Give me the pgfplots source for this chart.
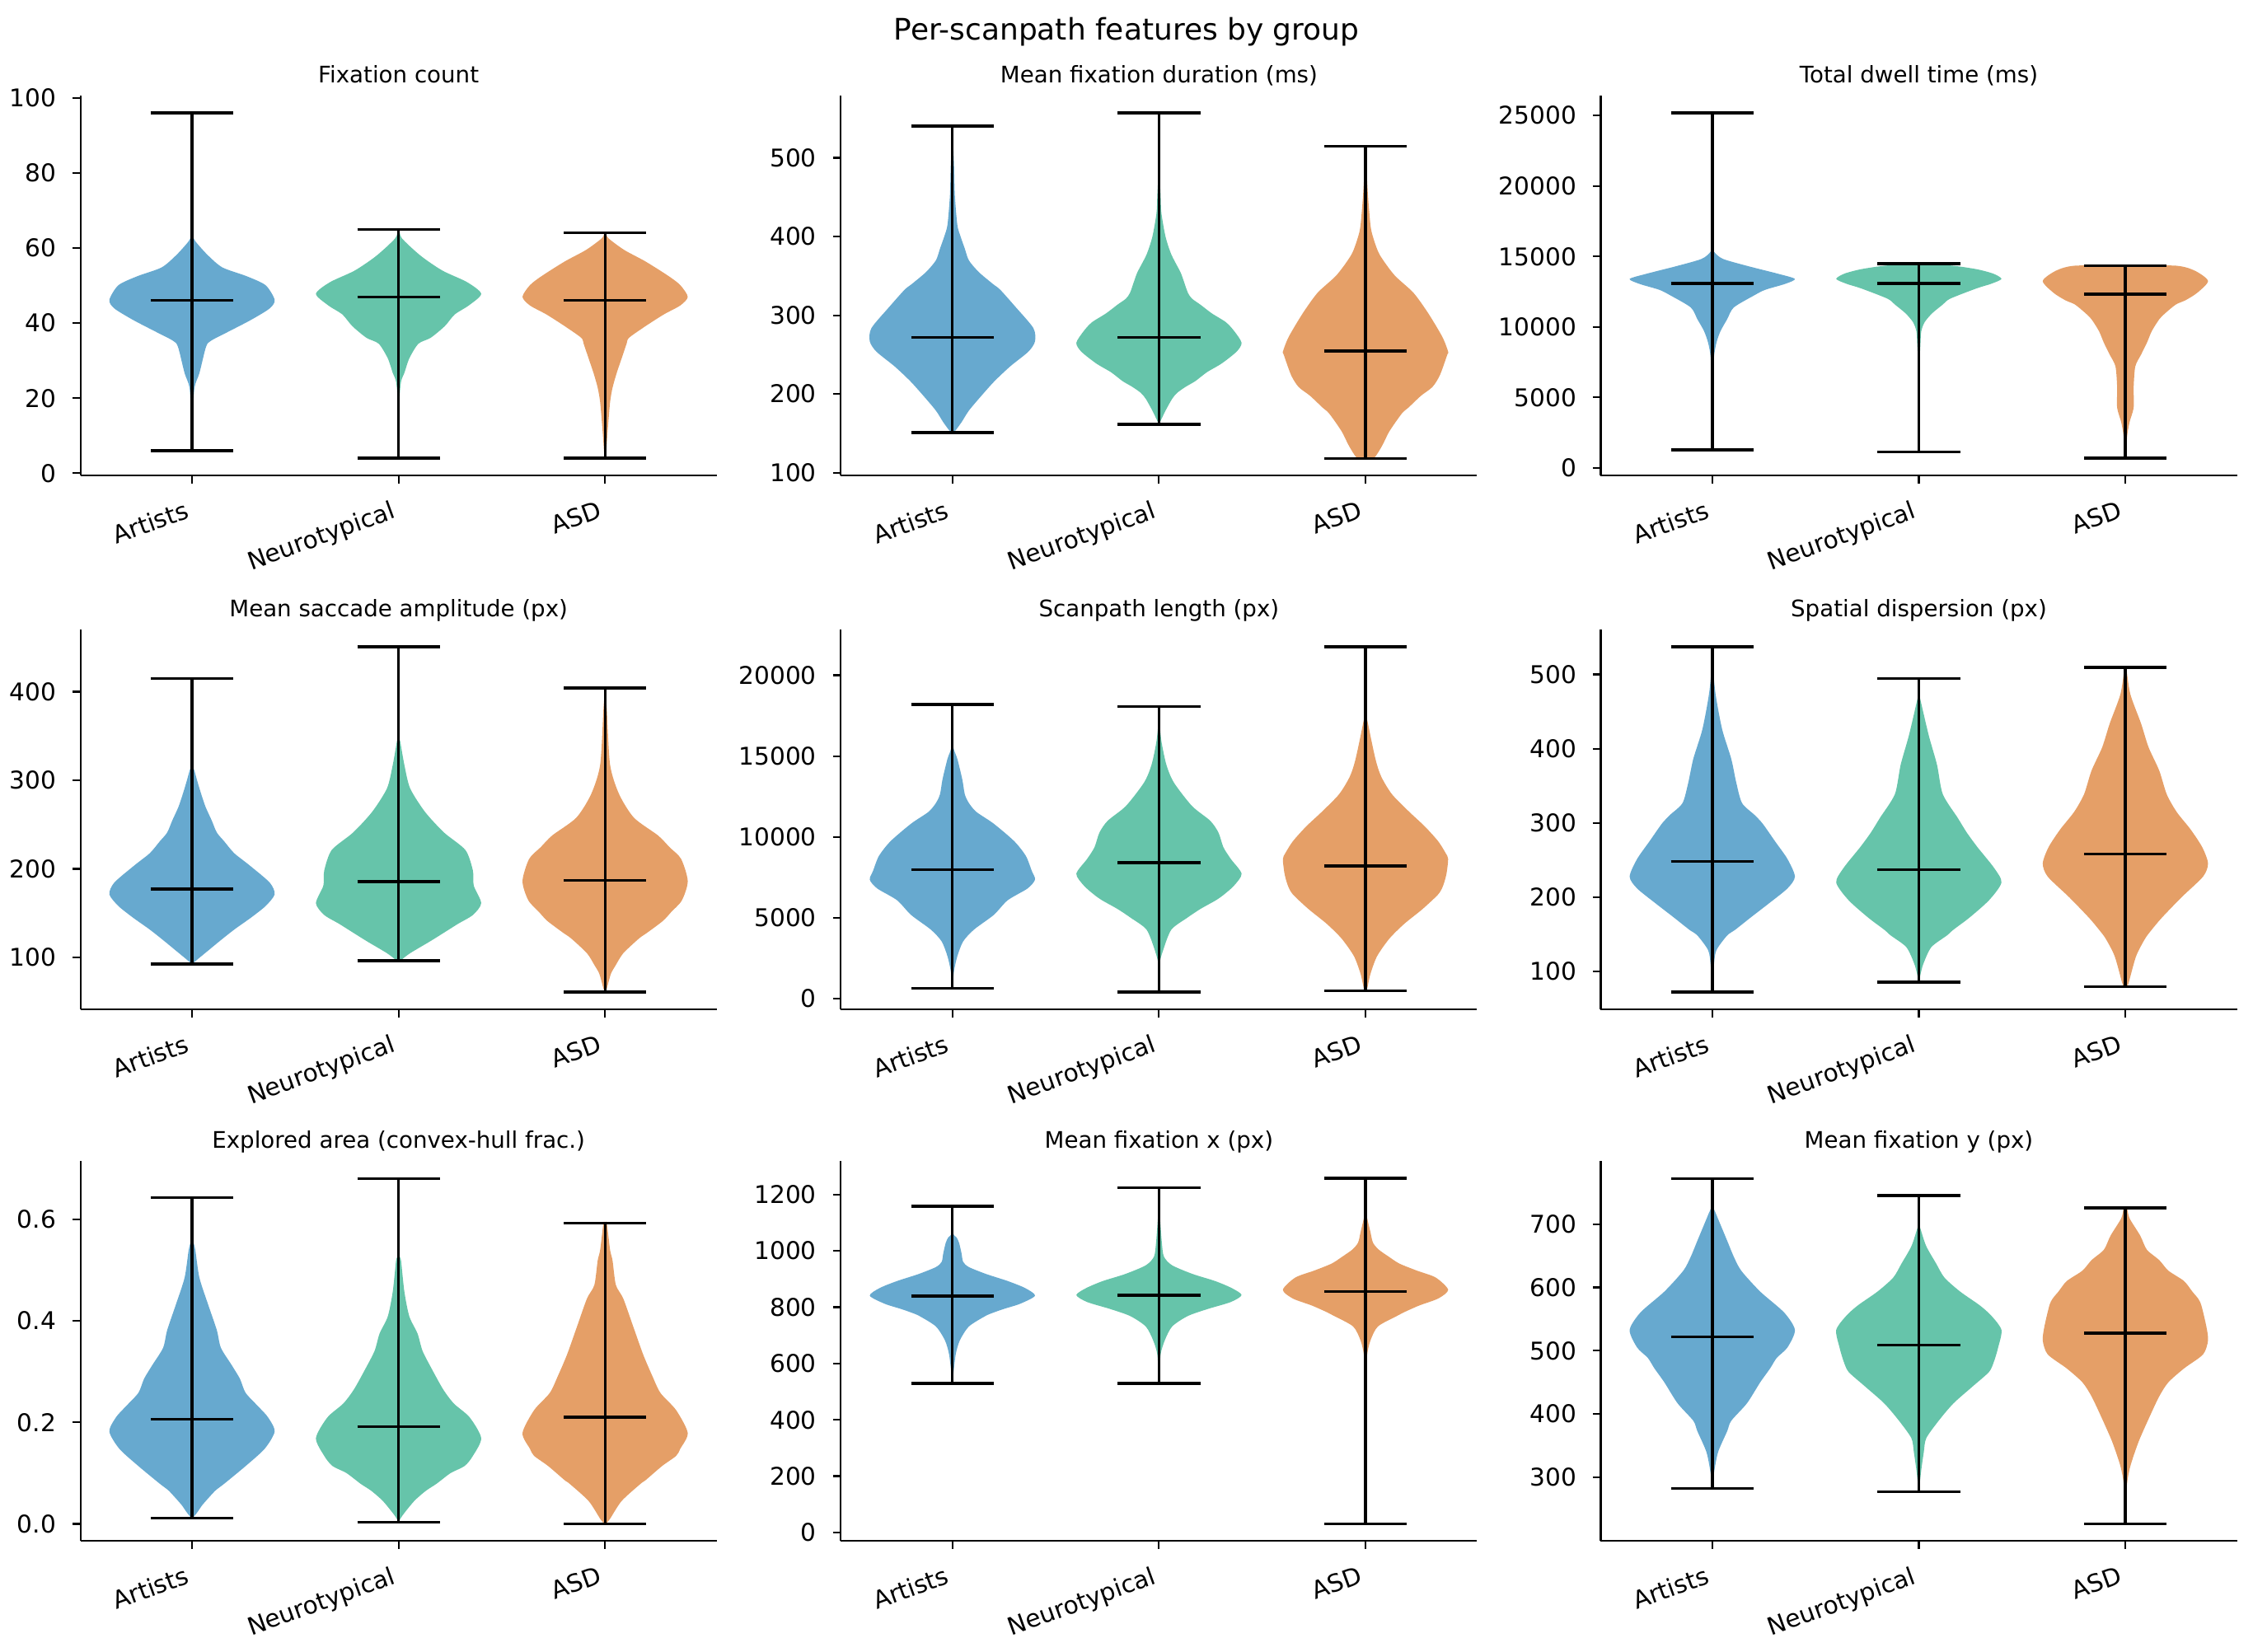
\documentclass[border=0pt]{standalone}
\usepackage{fontspec}
\setmainfont{DejaVu Sans}
\usepackage{pgfplots}
\usepackage{pgfplotstable}
\pgfplotsset{compat=1.18}
\usepgfplotslibrary{fillbetween}

\definecolor{cArt}{RGB}{103,169,207}
\definecolor{cNeu}{RGB}{102,196,170}
\definecolor{cAsd}{RGB}{229,159,103}

% ---- violin profiles: v = value, d = relative density (max 1) ----
% Fixation count
\pgfplotstableread{
v d
6 0
15 0.01
22.8 0.03
26.7 0.09
33.7 0.17
35.3 0.23
37.6 0.43
40.8 0.71
43.9 0.94
46.2 1.00
50.1 0.89
52.5 0.66
54.8 0.37
57.9 0.20
61.0 0.07
62.6 0.02
65.7 0.005
96 0
}\fixArt
\pgfplotstableread{
v d
4 0
18.9 0.01
24.4 0.03
26.7 0.07
30.6 0.13
34.5 0.24
36.1 0.39
39.2 0.56
42.3 0.68
44.7 0.85
47.8 1.00
50.9 0.83
54.0 0.53
57.9 0.27
62.6 0.04
65 0.01
65 0
}\fixNeu
\pgfplotstableread{
v d
4 0
4.9 0.01
11.1 0.03
18.9 0.06
22.8 0.09
26.7 0.14
30.6 0.20
34.5 0.26
36.1 0.29
39.2 0.49
42.3 0.71
44.7 0.91
47.0 1.00
50.1 0.91
52.5 0.77
56.4 0.49
59.5 0.23
62.6 0.04
64 0.01
64 0
}\fixAsd
% Mean fixation duration
\pgfplotstableread{
v d
150.9 0
152.7 0.03
164.0 0.11
178.9 0.20
197.6 0.35
216.3 0.51
235.1 0.70
253.8 0.92
266.9 1.00
283.7 0.98
309.9 0.77
332.3 0.58
339.8 0.49
354.8 0.32
369.7 0.20
384.7 0.15
399.7 0.10
414.6 0.06
452.0 0.03
489.5 0.02
526.9 0.005
540.3 0
}\durArt
\pgfplotstableread{
v d
161.4 0
165.8 0.02
178.9 0.08
193.9 0.16
201.4 0.22
208.9 0.32
216.3 0.44
227.6 0.58
238.8 0.76
253.8 0.94
265.0 1.00
280.0 0.91
291.2 0.81
302.4 0.64
313.6 0.50
321.1 0.40
328.6 0.35
343.5 0.30
354.8 0.26
377.2 0.15
399.7 0.08
429.6 0.03
452.0 0.02
489.5 0.005
557.2 0
}\durNeu
\pgfplotstableread{
v d
118.3 0
118.3 0.10
134.0 0.20
152.7 0.29
175.2 0.44
182.7 0.52
197.6 0.67
208.9 0.81
223.8 0.90
250.0 0.99
253.8 1.00
272.5 0.93
302.4 0.76
328.6 0.58
351.0 0.35
377.2 0.17
399.7 0.09
414.6 0.06
452.0 0.03
489.5 0.01
514.5 0
}\durAsd
% Total dwell time
\pgfplotstableread{
v d
1274 0
3655 0.003
5743 0.01
7832 0.02
8876 0.05
9712 0.10
10547 0.18
11382 0.26
12218 0.50
12635 0.64
13053 0.88
13408 1.00
13784 0.79
14306 0.44
14828 0.13
15350 0.02
15977 0.003
25187 0
}\dwArt
\pgfplotstableread{
v d
1149 0
6788 0.006
8876 0.02
9712 0.03
10338 0.07
10965 0.16
11591 0.29
12009 0.38
12740 0.70
13053 0.87
13408 1.00
13784 0.90
14097 0.70
14348 0.41
14494 0.06
14494 0
}\dwNeu
\pgfplotstableread{
v d
689 0
689 0.01
2193 0.02
3237 0.05
4281 0.10
5743 0.10
7205 0.12
8041 0.19
8876 0.26
9712 0.32
10547 0.41
10965 0.48
11591 0.61
11904 0.73
12426 0.87
13262 1.00
13993 0.84
14348 0.61
14348 0
}\dwAsd
% Mean saccade amplitude
\pgfplotstableread{
v d
92.4 0
98.0 0.07
108.0 0.20
118.0 0.33
131.3 0.51
144.6 0.71
157.9 0.89
171.2 1.00
184.5 0.94
204.4 0.69
217.7 0.51
231.0 0.39
241.0 0.30
254.3 0.24
270.9 0.16
290.9 0.09
310.8 0.03
324.1 0.006
414.6 0
}\sacArt
\pgfplotstableread{
v d
96.3 0
96.3 0.02
104.7 0.14
118.0 0.38
127.9 0.55
137.9 0.72
147.9 0.90
161.2 1.00
181.1 0.91
197.8 0.90
221.1 0.81
241.0 0.55
264.3 0.32
290.9 0.14
317.5 0.07
344.1 0.02
354.1 0.005
450.8 0
}\sacNeu
\pgfplotstableread{
v d
60.8 0
64.7 0.02
81.4 0.07
91.4 0.13
104.7 0.22
121.3 0.41
127.9 0.51
141.2 0.70
151.2 0.80
164.5 0.93
186.1 1.00
211.1 0.92
224.4 0.78
237.7 0.64
257.6 0.35
284.2 0.17
317.5 0.06
380.7 0.02
404.3 0
}\sacAsd
% Scanpath length
\pgfplotstableread{
v d
619 0
1712 0.02
2623 0.06
3534 0.13
4262 0.26
5173 0.50
6084 0.67
6812 0.91
7359 1.00
7905 0.96
8816 0.89
9727 0.75
10820 0.50
11548 0.29
12095 0.20
12641 0.15
13552 0.12
14827 0.06
15738 0.006
18197 0
}\lenArt
\pgfplotstableread{
v d
401 0
2077 0.006
2987 0.05
4262 0.15
4991 0.34
5537 0.50
6084 0.69
6448 0.79
6995 0.91
7723 1.00
8634 0.87
9363 0.78
10273 0.72
11002 0.62
11913 0.40
13370 0.18
14463 0.09
15920 0.03
17377 0.002
18051 0
}\lenNeu
\pgfplotstableread{
v d
492 0
619 0.02
1530 0.06
2623 0.14
3716 0.29
4627 0.47
5537 0.69
6448 0.88
6995 0.94
7723 0.98
8634 1.00
8998 0.97
9727 0.88
10638 0.72
11548 0.53
12641 0.32
13734 0.19
14827 0.12
17013 0.03
17924 0.003
21767 0
}\lenAsd
% Spatial dispersion
\pgfplotstableread{
v d
72.2 0
108.7 0.02
128.5 0.05
148.4 0.18
156.3 0.28
172.2 0.46
192.0 0.69
211.8 0.91
227.7 1.00
251.4 0.91
275.2 0.76
299.0 0.61
310.9 0.51
326.8 0.36
354.5 0.29
386.2 0.23
425.9 0.12
473.4 0.04
513.1 0.006
537.3 0
}\dispArt
\pgfplotstableread{
v d
85.7 0
88.9 0.006
108.7 0.05
132.5 0.15
148.4 0.34
156.3 0.42
172.2 0.61
195.9 0.85
219.7 1.00
239.5 0.91
267.3 0.71
287.1 0.58
306.9 0.47
338.7 0.29
378.3 0.22
417.9 0.12
465.5 0.02
473.4 0.006
494.8 0
}\dispNeu
\pgfplotstableread{
v d
79.4 0
79.4 0.02
84.9 0.04
120.6 0.13
144.4 0.24
156.3 0.32
172.2 0.44
199.9 0.68
227.7 0.94
245.5 1.00
267.3 0.93
291.1 0.79
314.9 0.62
338.7 0.50
370.4 0.41
402.1 0.28
433.8 0.19
473.4 0.06
509.5 0.01
509.5 0
}\dispAsd
% Explored area
\pgfplotstableread{
v d
0.0117 0
0.0117 0.01
0.024 0.07
0.038 0.13
0.065 0.28
0.079 0.39
0.114 0.65
0.148 0.88
0.182 1.00
0.210 0.92
0.230 0.81
0.258 0.65
0.286 0.58
0.313 0.48
0.347 0.35
0.382 0.30
0.430 0.20
0.485 0.09
0.540 0.04
0.568 0.006
0.643 0
}\areaArt
\pgfplotstableread{
v d
0.0034 0
0.017 0.05
0.045 0.19
0.065 0.33
0.079 0.46
0.100 0.63
0.114 0.80
0.134 0.90
0.169 1.00
0.210 0.86
0.237 0.67
0.265 0.54
0.306 0.40
0.341 0.29
0.375 0.23
0.409 0.13
0.458 0.07
0.519 0.03
0.540 0.005
0.681 0
}\areaNeu
\pgfplotstableread{
v d
0.0 0
0.0 0.01
0.010 0.06
0.045 0.20
0.079 0.43
0.086 0.49
0.114 0.69
0.134 0.86
0.148 0.91
0.179 1.00
0.224 0.86
0.258 0.67
0.292 0.57
0.334 0.46
0.389 0.34
0.444 0.22
0.471 0.13
0.519 0.09
0.540 0.06
0.593 0.02
0.593 0
}\areaAsd
% Mean fixation x
\pgfplotstableread{
v d
529.4 0
558.0 0.01
632.3 0.04
681.9 0.09
731.5 0.20
768.7 0.40
781.1 0.50
793.5 0.62
812.1 0.82
840.7 1.00
867.9 0.88
892.7 0.67
917.5 0.41
942.3 0.20
960.9 0.13
991.9 0.11
1029.1 0.08
1047.7 0.05
1066.3 0.006
1158.1 0
}\mxArt
\pgfplotstableread{
v d
529.4 0
558.0 0.006
632.3 0.02
681.9 0.07
731.5 0.16
768.7 0.35
793.5 0.59
818.3 0.87
843.1 1.00
867.9 0.88
892.7 0.68
917.5 0.41
948.5 0.16
979.5 0.06
1029.1 0.035
1128.3 0.01
1153.1 0.003
1225.0 0
}\mxNeu
\pgfplotstableread{
v d
31.0 0
409.2 0.003
570.4 0.01
632.3 0.02
681.9 0.06
731.5 0.15
768.7 0.38
781.1 0.46
805.9 0.65
830.7 0.88
861.7 1.00
905.1 0.85
929.9 0.62
954.7 0.41
979.5 0.28
1004.3 0.16
1029.1 0.09
1066.3 0.06
1115.9 0.02
1140.7 0.006
1257.3 0
}\mxAsd
% Mean fixation y
\pgfplotstableread{
v d
282.3 0
306.6 0.02
339.7 0.07
372.8 0.18
389.4 0.23
417.0 0.42
450.1 0.58
472.1 0.70
488.7 0.78
505.2 0.91
532.8 1.00
560.4 0.87
593.5 0.58
626.6 0.35
648.7 0.26
670.8 0.19
692.8 0.12
714.9 0.05
731.4 0.006
772.3 0
}\myArt
\pgfplotstableread{
v d
277.4 0
312.1 0.03
339.7 0.06
361.8 0.09
389.4 0.24
417.0 0.42
444.6 0.66
466.6 0.85
483.2 0.91
505.2 0.96
532.8 1.00
555.0 0.88
571.5 0.74
593.5 0.50
615.6 0.31
637.7 0.21
665.2 0.09
692.8 0.02
703.9 0.002
745.2 0
}\myNeu
\pgfplotstableread{
v d
226.6 0
257.0 0.006
290.1 0.02
317.7 0.06
356.3 0.16
394.9 0.29
428.0 0.41
450.1 0.52
472.1 0.71
494.2 0.94
516.3 1.00
538.3 0.98
571.5 0.92
582.5 0.88
593.5 0.81
610.1 0.71
626.6 0.52
643.2 0.41
659.7 0.26
681.8 0.18
709.4 0.05
725.9 0.02
725.9 0
}\myAsd

% one violin body: position, colour, profile table, unique id
\newcommand{\violin}[4]{%
  \addplot[draw=none, forget plot, smooth, tension=0.45, name path=R#4] table[x expr={#1+0.4*\thisrow{d}}, y=v] {#3};
  \addplot[draw=none, forget plot, smooth, tension=0.45, name path=L#4] table[x expr={#1-0.4*\thisrow{d}}, y=v] {#3};
  \addplot[fill=#2, draw=none, forget plot] fill between[of=R#4 and L#4];
}
% extrema bar, caps and median: left, centre, right, minimum, median, maximum
\newcommand{\vstats}[6]{%
  \addplot[statline] coordinates {(#2,#4) (#2,#6)};
  \addplot[statline] coordinates {(#1,#4) (#3,#4)};
  \addplot[statline] coordinates {(#1,#5) (#3,#5)};
  \addplot[statline] coordinates {(#1,#6) (#3,#6)};
}

\pgfplotsset{
  statline/.style={black, line width=1.2pt, mark=none, forget plot},
  violinax/.style={
    anchor=south west,
    scale only axis, width=98.04mm, height=58.55mm,
    xmin=0.46, xmax=3.54,
    xtick={1,2,3}, xticklabels={Artists,Neurotypical,ASD},
    axis x line=bottom, axis y line=left,
    axis line style={-, line width=0.8pt, black},
    tick align=outside, major tick length=3.5pt,
    tick style={line width=0.8pt, black},
    every tick label/.append style={font=\fontsize{10.7}{12.8}\selectfont, text=black},
    xticklabel style={anchor=north east, inner sep=0pt, xshift=-3.5pt, yshift=-7pt, rotate=20},
    yticklabel style={anchor=east, inner sep=0pt, xshift=-7pt},
    /pgf/number format/assume math mode=true,
    /pgf/number format/1000 sep={},
    scaled y ticks=false,
    title style={font=\fontsize{10}{12}\selectfont, anchor=base, at={(0.5,1)}, yshift=-0.1mm},
  },
}

\begin{document}
\begin{tikzpicture}
\path (0,0) rectangle (347.2mm,254.5mm);
\node[anchor=base, font=\fontsize{13}{15}\selectfont] at (173.6mm,248.3mm) {Per-scanpath features by group};

% ---------- row 1 ----------
\begin{axis}[violinax, at={(12.40mm,181.21mm)}, title={Fixation count},
  ymin=-0.6, ymax=100.6, ytick={0,20,40,60,80,100}]
\violin{1}{cArt}{\fixArt}{aa}
\violin{2}{cNeu}{\fixNeu}{ab}
\violin{3}{cAsd}{\fixAsd}{ac}
\vstats{0.8}{1}{1.2}{6}{46}{96}
\vstats{1.8}{2}{2.2}{4}{47}{65}
\vstats{2.8}{3}{3.2}{4}{46}{64}
\end{axis}

\begin{axis}[violinax, at={(129.58mm,181.21mm)}, title={Mean fixation duration (ms)},
  ymin=96.4, ymax=579.1, ytick={100,200,300,400,500}]
\violin{1}{cArt}{\durArt}{ba}
\violin{2}{cNeu}{\durNeu}{bb}
\violin{3}{cAsd}{\durAsd}{bc}
\vstats{0.8}{1}{1.2}{150.9}{272.1}{540.3}
\vstats{1.8}{2}{2.2}{161.4}{272.1}{557.2}
\vstats{2.8}{3}{3.2}{118.3}{254.5}{514.5}
\end{axis}

\begin{axis}[violinax, at={(246.68mm,181.21mm)}, title={Total dwell time (ms)},
  ymin=-536, ymax=26412, ytick={0,5000,10000,15000,20000,25000}]
\violin{1}{cArt}{\dwArt}{ca}
\violin{2}{cNeu}{\dwNeu}{cb}
\violin{3}{cAsd}{\dwAsd}{cc}
\vstats{0.8}{1}{1.2}{1274}{13095}{25187}
\vstats{1.8}{2}{2.2}{1149}{13095}{14494}
\vstats{2.8}{3}{3.2}{689}{12322}{14348}
\end{axis}

% ---------- row 2 ----------
\begin{axis}[violinax, at={(12.40mm,98.93mm)}, title={Mean saccade amplitude (px)},
  ymin=41.3, ymax=470.3, ytick={100,200,300,400}]
\violin{1}{cArt}{\sacArt}{da}
\violin{2}{cNeu}{\sacNeu}{db}
\violin{3}{cAsd}{\sacAsd}{dc}
\vstats{0.8}{1}{1.2}{92.4}{177.2}{414.6}
\vstats{1.8}{2}{2.2}{96.3}{185.5}{450.8}
\vstats{2.8}{3}{3.2}{60.8}{187.1}{404.3}
\end{axis}

\begin{axis}[violinax, at={(129.58mm,98.93mm)}, title={Scanpath length (px)},
  ymin=-667, ymax=22835, ytick={0,5000,10000,15000,20000}]
\violin{1}{cArt}{\lenArt}{ea}
\violin{2}{cNeu}{\lenNeu}{eb}
\violin{3}{cAsd}{\lenAsd}{ec}
\vstats{0.8}{1}{1.2}{619}{7960}{18197}
\vstats{1.8}{2}{2.2}{401}{8415}{18051}
\vstats{2.8}{3}{3.2}{492}{8197}{21767}
\end{axis}

\begin{axis}[violinax, at={(246.68mm,98.93mm)}, title={Spatial dispersion (px)},
  ymin=48.9, ymax=560.6, ytick={100,200,300,400,500}]
\violin{1}{cArt}{\dispArt}{fa}
\violin{2}{cNeu}{\dispNeu}{fb}
\violin{3}{cAsd}{\dispAsd}{fc}
\vstats{0.8}{1}{1.2}{72.2}{247.9}{537.3}
\vstats{1.8}{2}{2.2}{85.7}{236.8}{494.8}
\vstats{2.8}{3}{3.2}{79.4}{257.8}{509.5}
\end{axis}

% ---------- row 3 ----------
\begin{axis}[violinax, at={(12.40mm,16.98mm)}, title={Explored area (convex-hull frac.)},
  ymin=-0.034, ymax=0.715, ytick={0,0.2,0.4,0.6},
  yticklabel style={/pgf/number format/fixed, /pgf/number format/fixed zerofill, /pgf/number format/precision=1}]
\violin{1}{cArt}{\areaArt}{ga}
\violin{2}{cNeu}{\areaNeu}{gb}
\violin{3}{cAsd}{\areaAsd}{gc}
\vstats{0.8}{1}{1.2}{0.0117}{0.2057}{0.643}
\vstats{1.8}{2}{2.2}{0.0034}{0.192}{0.681}
\vstats{2.8}{3}{3.2}{0}{0.210}{0.593}
\end{axis}

\begin{axis}[violinax, at={(129.58mm,16.98mm)}, title={Mean fixation x (px)},
  ymin=-30.3, ymax=1318.3, ytick={0,200,400,600,800,1000,1200}]
\violin{1}{cArt}{\mxArt}{ha}
\violin{2}{cNeu}{\mxNeu}{hb}
\violin{3}{cAsd}{\mxAsd}{hc}
\vstats{0.8}{1}{1.2}{529.4}{839.4}{1158.1}
\vstats{1.8}{2}{2.2}{529.4}{841.9}{1225.0}
\vstats{2.8}{3}{3.2}{31.0}{855.5}{1257.3}
\end{axis}

\begin{axis}[violinax, at={(246.68mm,16.98mm)}, title={Mean fixation y (px)},
  ymin=199.3, ymax=799.6, ytick={300,400,500,600,700}]
\violin{1}{cArt}{\myArt}{ia}
\violin{2}{cNeu}{\myNeu}{ib}
\violin{3}{cAsd}{\myAsd}{ic}
\vstats{0.8}{1}{1.2}{282.3}{522.3}{772.3}
\vstats{1.8}{2}{2.2}{277.4}{509.1}{745.2}
\vstats{2.8}{3}{3.2}{226.6}{527.9}{725.9}
\end{axis}
\end{tikzpicture}
\end{document}
